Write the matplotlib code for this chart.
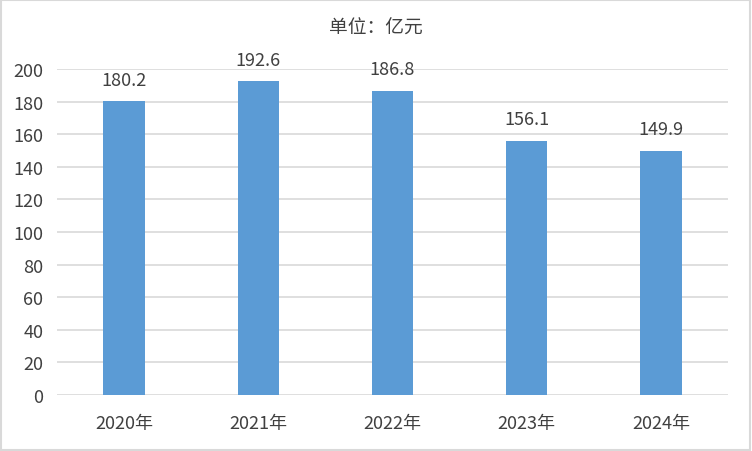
import matplotlib.pyplot as plt
from matplotlib.patches import Rectangle

plt.rcParams['font.family'] = ['Noto Sans CJK SC', 'DejaVu Sans']

# 数据
years = ['2020年', '2021年', '2022年', '2023年', '2024年']
values = [180.2, 192.6, 186.8, 156.1, 149.9]
yticks = list(range(0, 201, 20))

fig = plt.figure(figsize=(7.52, 4.52), dpi=100)
ax = fig.add_axes([0.076, 0.124, 0.892, 0.721])

x = list(range(len(years)))
ax.bar(x, values, width=0.31, color='#5B9BD5', zorder=3)

for xi, v in zip(x, values):
    ax.annotate(f'{v:.1f}', (xi, v), xytext=(0, 9), textcoords='offset points',
                ha='center', va='bottom', fontsize=13, color='#404040')

ax.set_xlim(-0.5, len(years) - 0.5)
ax.set_ylim(0, 200)
ax.set_yticks(yticks)
ax.set_xticks(x)
ax.set_xticklabels(years)
ax.tick_params(axis='both', length=0, labelsize=13, labelcolor='#404040')
ax.tick_params(axis='x', pad=14)
ax.tick_params(axis='y', pad=10)
ax.grid(axis='y', color='#D9D9D9', linewidth=1.2, zorder=0)
for s in ax.spines.values():
    s.set_visible(False)

fig.text(0.5, 0.937, '单位：亿元', ha='center', va='center', fontsize=13.5, color='#404040')

# 外框
fig.patches.append(Rectangle((0.001, 0.002), 0.997, 0.995, transform=fig.transFigure,
                             fill=False, edgecolor='#D9D9D9', linewidth=1.5))

fig.savefig('out.png', dpi=100)
